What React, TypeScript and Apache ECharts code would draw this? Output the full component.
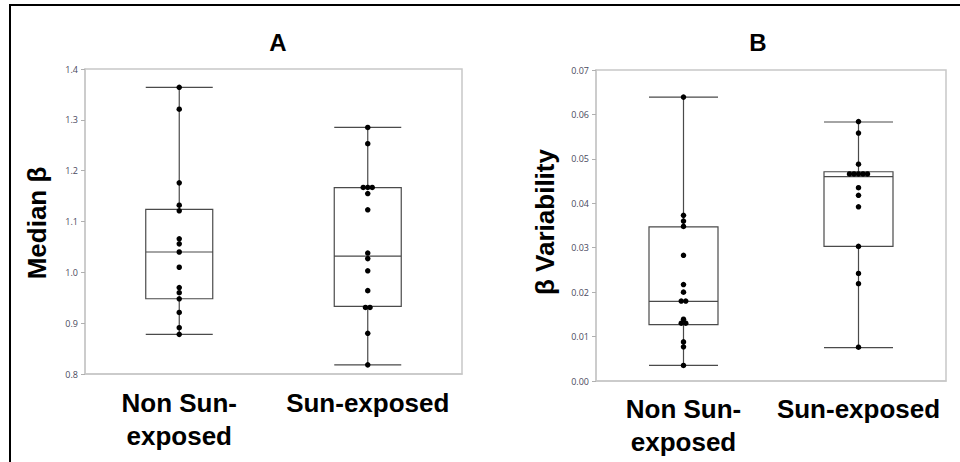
import React, { useEffect, useRef } from "react";
import * as echarts from "echarts";

// ---- Data ----
const categories = ["Non Sun-\nexposed", "Sun-exposed"];

// Panel A: Median β
const medianBetaNonSun = [1.364, 1.321, 1.176, 1.132, 1.121, 1.066, 1.056, 1.04, 1.01, 0.97, 0.96, 0.948, 0.921, 0.891, 0.878];
const medianBetaSun = [1.285, 1.253, 1.167, 1.167, 1.167, 1.155, 1.123, 1.038, 1.027, 1.003, 0.964, 0.931, 0.931, 0.88, 0.818];
// [min, Q1, median, Q3, max]
const medianBetaBoxNonSun = [0.878, 0.948, 1.04, 1.124, 1.364];
const medianBetaBoxSun = [0.818, 0.933, 1.032, 1.1665, 1.285];

// Panel B: β Variability
const variabilityNonSun = [0.0639, 0.0373, 0.036, 0.0348, 0.0283, 0.0217, 0.02, 0.018, 0.018, 0.0139, 0.013, 0.013, 0.0088, 0.0077, 0.0035];
const variabilitySun = [0.0584, 0.0558, 0.0488, 0.0466, 0.0466, 0.0466, 0.0466, 0.0466, 0.0435, 0.0418, 0.0392, 0.0303, 0.0242, 0.0219, 0.0076];
const variabilityBoxNonSun = [0.0035, 0.0127, 0.0179, 0.0347, 0.0639];
const variabilityBoxSun = [0.0075, 0.0303, 0.046, 0.0471, 0.0583];

const yTicksA = { min: 0.8, max: 1.4, interval: 0.1 };
const yTicksB = { min: 0, max: 0.07, interval: 0.01 };

// ---- Layout ----
const GRID_A = { left: 85, top: 69, width: 377, height: 305 };
const GRID_B = { left: 596, top: 70, width: 350, height: 311 };
const DOT_STEP_PX = 4.5;
const FONT = "'Liberation Sans', Arial, sans-serif";

function jitter(values: number[], catIndex: number, gridWidth: number): number[][] {
  const unitPx = gridWidth / 2; // value axis spans 2 units (-0.5 .. 1.5)
  const step = DOT_STEP_PX / unitPx;
  const groups = new Map<number, number>();
  values.forEach((v) => groups.set(v, (groups.get(v) || 0) + 1));
  const seen = new Map<number, number>();
  return values.map((v) => {
    const n = groups.get(v) || 1;
    const i = seen.get(v) || 0;
    seen.set(v, i + 1);
    return [catIndex + (i - (n - 1) / 2) * step, v];
  });
}

export default function App() {
  const ref = useRef<HTMLDivElement>(null);

  useEffect(() => {
    if (!ref.current) return;
    const chart = echarts.init(ref.current, undefined, { renderer: "svg" });

    const boxStyle = { color: "#ffffff", borderColor: "#4a4a4a", borderWidth: 1.2 };
    const yAxisCommon = {
      type: "value",
      axisLine: { show: true, onZero: false, lineStyle: { color: "#c8c8c8", width: 1.5 } },
      axisTick: { show: true, length: 4, lineStyle: { color: "#b0b0b0" } },
      splitLine: { show: false },
      axisLabel: { color: "#4a4a5e", fontSize: 9, fontFamily: "'Open Sans', sans-serif", margin: 7 },
    };
    const catAxisCommon = {
      type: "category",
      data: categories,
      boundaryGap: true,
      axisTick: { show: false },
      axisLine: { show: true, onZero: false, lineStyle: { color: "#c8c8c8", width: 1.5 } },
      axisLabel: {
        color: "#000",
        fontSize: 26,
        fontWeight: "bold",
        fontFamily: FONT,
        lineHeight: 33,
        interval: 0,
      },
    };
    const dotStyle = { color: "#000", opacity: 1 };

    chart.setOption({
      animation: false,
      backgroundColor: "#ffffff",
      grid: [
        { ...GRID_A, show: true, borderColor: "#c8c8c8", borderWidth: 1.5 },
        { ...GRID_B, show: true, borderColor: "#c8c8c8", borderWidth: 1.5 },
      ],
      xAxis: [
        { ...catAxisCommon, gridIndex: 0, axisLabel: { ...catAxisCommon.axisLabel, margin: 12 } },
        { type: "value", gridIndex: 0, min: -0.5, max: 1.5, show: false, splitLine: { show: false } },
        { ...catAxisCommon, gridIndex: 1, axisLabel: { ...catAxisCommon.axisLabel, margin: 11 } },
        { type: "value", gridIndex: 1, min: -0.5, max: 1.5, show: false, splitLine: { show: false } },
      ],
      yAxis: [
        {
          ...yAxisCommon,
          gridIndex: 0,
          ...yTicksA,
          axisLabel: { ...yAxisCommon.axisLabel, formatter: (v: number) => v.toFixed(1) },
        },
        {
          ...yAxisCommon,
          gridIndex: 1,
          ...yTicksB,
          axisLabel: { ...yAxisCommon.axisLabel, formatter: (v: number) => v.toFixed(2) },
        },
      ],
      series: [
        {
          type: "boxplot",
          xAxisIndex: 0,
          yAxisIndex: 0,
          boxWidth: [67, 67],
          itemStyle: boxStyle,
          data: [medianBetaBoxNonSun, medianBetaBoxSun],
          z: 2,
        },
        {
          type: "scatter",
          xAxisIndex: 1,
          yAxisIndex: 0,
          symbolSize: 5.5,
          itemStyle: dotStyle,
          data: [
            ...jitter(medianBetaNonSun, 0, GRID_A.width),
            ...jitter(medianBetaSun, 1, GRID_A.width),
          ],
          z: 5,
        },
        {
          type: "boxplot",
          xAxisIndex: 2,
          yAxisIndex: 1,
          boxWidth: [69, 69],
          itemStyle: boxStyle,
          data: [variabilityBoxNonSun, variabilityBoxSun],
          z: 2,
        },
        {
          type: "scatter",
          xAxisIndex: 3,
          yAxisIndex: 1,
          symbolSize: 5.5,
          itemStyle: dotStyle,
          data: [
            ...jitter(variabilityNonSun, 0, GRID_B.width),
            ...jitter(variabilitySun, 1, GRID_B.width),
          ],
          z: 5,
        },
      ],
      graphic: [
        { type: "line", shape: { x1: 9, y1: 5, x2: 960, y2: 5 }, style: { stroke: "#000", lineWidth: 2 } },
        { type: "line", shape: { x1: 10, y1: 4, x2: 10, y2: 462 }, style: { stroke: "#000", lineWidth: 2 } },
        {
          type: "text",
          x: 278,
          y: 42,
          style: { text: "A", font: `bold 24px ${FONT}`, fill: "#000", textAlign: "center", textVerticalAlign: "middle" },
        },
        {
          type: "text",
          x: 758,
          y: 42,
          style: { text: "B", font: `bold 24px ${FONT}`, fill: "#000", textAlign: "center", textVerticalAlign: "middle" },
        },
        {
          type: "text",
          x: 37,
          y: 223,
          rotation: Math.PI / 2,
          style: { text: "Median β", font: `bold 26px ${FONT}`, fill: "#000", textAlign: "center", textVerticalAlign: "middle" },
        },
        {
          type: "text",
          x: 545,
          y: 222,
          rotation: Math.PI / 2,
          style: { text: "β Variability", font: `bold 26px ${FONT}`, fill: "#000", textAlign: "center", textVerticalAlign: "middle" },
        },
      ],
    });

    return () => chart.dispose();
  }, []);

  return (
    <div
      ref={ref}
      style={{ position: "fixed", left: 0, top: 0, width: 960, height: 462, background: "#fff" }}
    />
  );
}
